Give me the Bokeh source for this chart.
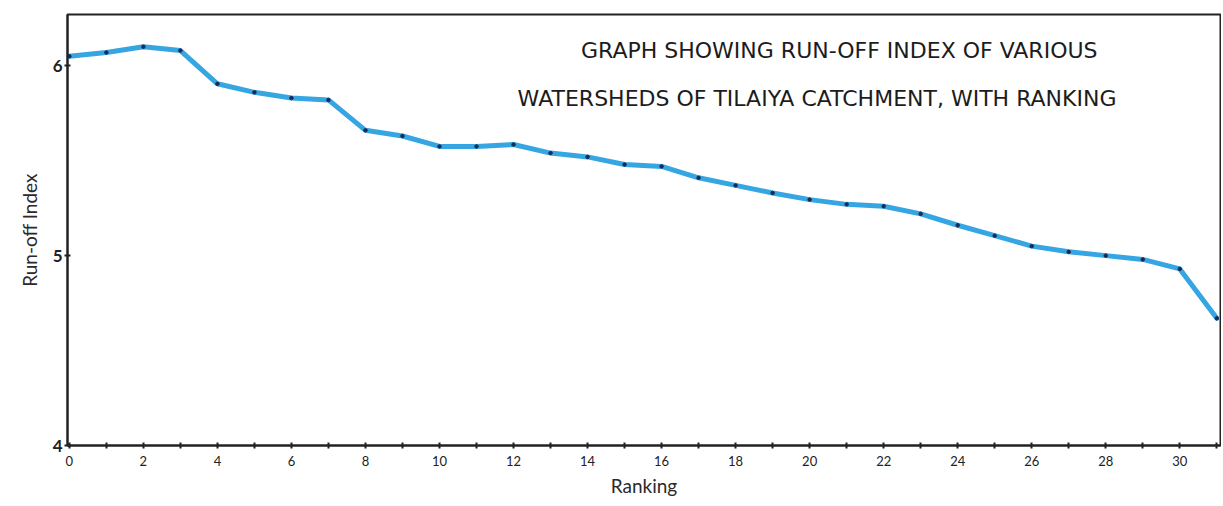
from bokeh.plotting import figure
from bokeh.models import Range1d, FixedTicker, Label
from bokeh.embed import file_html
from bokeh.resources import INLINE

rank = list(range(0, 32))
runoff = [6.05, 6.07, 6.10, 6.08, 5.905, 5.86, 5.83, 5.82, 5.66, 5.63,
          5.575, 5.575, 5.585, 5.54, 5.52, 5.48, 5.47, 5.41, 5.37, 5.33,
          5.295, 5.27, 5.26, 5.22, 5.16, 5.105, 5.05, 5.02, 5.00, 4.98,
          4.93, 4.67]
x_major = list(range(0, 31, 2))
x_minor = list(range(1, 32, 2))
y_major = [4, 5, 6]
title_1 = "GRAPH SHOWING RUN-OFF INDEX OF VARIOUS"
title_2 = "WATERSHEDS OF TILAIYA CATCHMENT, WITH RANKING"
x_label = "Ranking"
y_label = "Run-off Index"

FONT = "Lato"

p = figure(width=1221, height=499, output_backend="svg", toolbar_location=None,
           x_range=Range1d(-0.05, 31.1), y_range=Range1d(4.0, 6.27),
           min_border_left=67, min_border_right=1, min_border_top=14, min_border_bottom=40)
p.xgrid.visible = False
p.ygrid.visible = False
p.outline_line_color = "#222222"
p.outline_line_width = 2
p.background_fill_color = "white"
p.border_fill_color = "white"

for ax in (p.xaxis, p.yaxis):
    ax.axis_line_color = "#222222"
    ax.axis_line_width = 2
    ax.major_tick_line_color = "#222222"
    ax.major_tick_line_width = 2
    ax.minor_tick_line_color = "#222222"
    ax.minor_tick_line_width = 2
    ax.major_tick_in = 3
    ax.major_tick_out = 3
    ax.minor_tick_in = 3
    ax.minor_tick_out = 3
    ax.major_label_text_font = FONT
    ax.major_label_text_color = "#222222"
    ax.axis_label_text_font = FONT
    ax.axis_label_text_font_style = "normal"
    ax.axis_label_text_font_size = "19px"
    ax.axis_label_text_color = "#2a2a2a"

p.xaxis.ticker = FixedTicker(ticks=x_major, minor_ticks=x_minor)
p.yaxis.ticker = FixedTicker(ticks=y_major, minor_ticks=[])
p.xaxis.major_label_text_font_size = "13px"
p.xaxis.major_label_standoff = 7
p.yaxis.major_label_text_font_size = "17px"
p.yaxis.major_label_text_font_style = "bold"
p.yaxis.major_label_standoff = 2
p.xaxis.axis_label = x_label
p.xaxis.axis_label_standoff = 5
p.yaxis.axis_label = y_label
p.yaxis.axis_label_standoff = 9

p.line(rank, runoff, line_color="#35a6e2", line_width=5, line_join="round", line_cap="round")
p.scatter(rank, runoff, size=3.5, color="#1a2a55")

for txt, xc, yc in ((title_1, 20.8, 6.08), (title_2, 20.2, 5.83)):
    p.add_layout(Label(x=xc, y=yc, text=txt, text_align="center", text_baseline="middle",
                       text_font="DejaVu Sans", text_font_size="22px",
                       text_color="#1c1c1c"))

open("out.html", "w").write(file_html(p, INLINE))
